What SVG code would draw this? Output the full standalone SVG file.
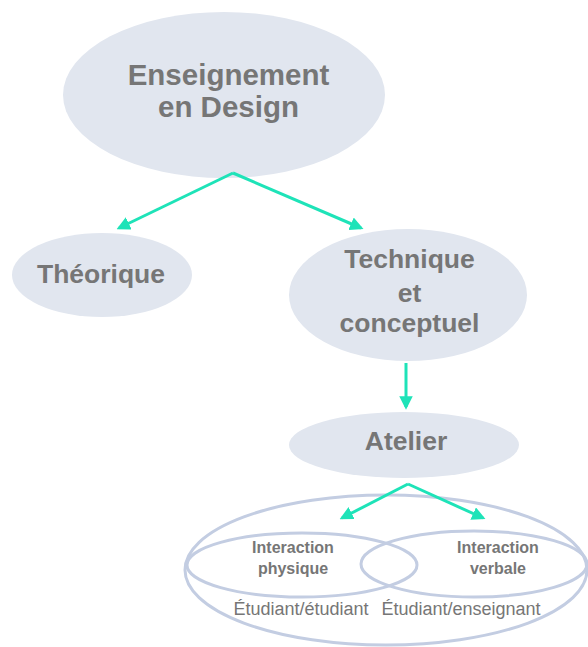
<svg xmlns="http://www.w3.org/2000/svg" width="588" height="647" viewBox="0 0 588 647">
<style>
.n{fill:#e1e6ef;}
.t{font-family:"Liberation Sans",Arial,sans-serif;font-weight:bold;fill:#767676;text-anchor:middle;}
.r{font-family:"Liberation Sans",Arial,sans-serif;fill:#767676;text-anchor:middle;font-size:18px;}
.c{stroke:#1ee3b8;stroke-width:3;fill:none;}
.v{fill:none;stroke:#c3cde2;stroke-width:3;}
</style>
<defs>
<marker id="a" viewBox="0 0 10 10" refX="8" refY="5" markerWidth="4.5" markerHeight="4.5" orient="auto" markerUnits="strokeWidth">
<path d="M0,0 L10,5 L0,10 z" fill="#1ee3b8"/>
</marker>
</defs>
<rect width="588" height="647" fill="#fff"/>
<g id="enseignement">
<ellipse class="n" cx="224" cy="95" rx="161" ry="83"/>
<text class="t" font-size="29.5" x="228.5" y="85">Enseignement</text>
<text class="t" font-size="29.5" x="228.5" y="117">en Design</text>
</g>
<g id="theorique">
<ellipse class="n" cx="102" cy="275" rx="90" ry="42"/>
<text class="t" font-size="26.5" x="101" y="283">Théorique</text>
</g>
<g id="technique">
<ellipse class="n" cx="408" cy="295" rx="119" ry="66"/>
<text class="t" font-size="26.5" x="409.5" y="268">Technique</text>
<text class="t" font-size="26.5" x="409.5" y="302">et</text>
<text class="t" font-size="26.5" x="409.5" y="332">conceptuel</text>
</g>
<g id="atelier">
<ellipse class="n" cx="404" cy="445" rx="115" ry="33"/>
<text class="t" font-size="26.5" x="406" y="450">Atelier</text>
</g>
<g id="interactions">
<ellipse class="v" cx="386" cy="570" rx="201" ry="75"/>
<ellipse class="v" cx="302" cy="565" rx="115" ry="32"/>
<ellipse class="v" cx="474" cy="564" rx="113" ry="33"/>
<text class="t" font-size="16" x="293" y="553">Interaction</text>
<text class="t" font-size="16" x="293" y="574">physique</text>
<text class="t" font-size="16" x="498" y="553">Interaction</text>
<text class="t" font-size="16" x="498" y="574">verbale</text>
<text class="r" x="301" y="615">Étudiant/étudiant</text>
<text class="r" x="461" y="615">Étudiant/enseignant</text>
</g>
<g id="connectors">
<polyline class="c" points="233,173 119,228" marker-end="url(#a)"/>
<polyline class="c" points="233,173 361,228" marker-end="url(#a)"/>
<polyline class="c" points="406,363 406,407" marker-end="url(#a)"/>
<polyline class="c" points="408,484 342,518" marker-end="url(#a)"/>
<polyline class="c" points="408,484 483,518" marker-end="url(#a)"/>
</g>
</svg>
